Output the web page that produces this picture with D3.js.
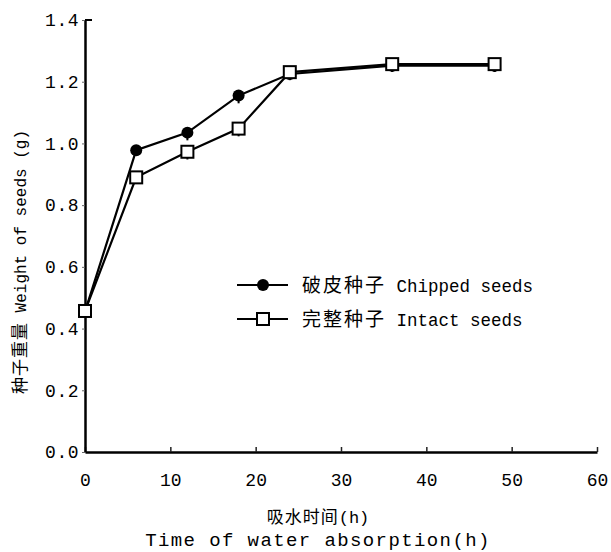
<!DOCTYPE html>
<html>
<head>
<meta charset="utf-8">
<script src="https://cdn.jsdelivr.net/npm/d3@7"></script>
<style>
  html, body { margin: 0; padding: 0; background: #fff; }
  svg { display: block; }
</style>
</head>
<body>
<div id="chart"></div>
<script>
// values
const hours = [0, 6, 12, 18, 24, 36, 48];
const chipped = [0.455, 0.978, 1.035, 1.155, 1.225, 1.252, 1.252];
const intact = [0.457, 0.890, 0.973, 1.048, 1.231, 1.257, 1.257];
const chippedErr = [0, 0.015, 0.025, 0.025, 0.02, 0.02, 0.02];
const intactErr = [0, 0.02, 0.025, 0.025, 0.025, 0.025, 0.025];

const xTicks = [0, 10, 20, 30, 40, 50, 60];
const yTicks = [0, 0.2, 0.4, 0.6, 0.8, 1.0, 1.2, 1.4];
const yTickLabels = ['0.0', '0.2', '0.4', '0.6', '0.8', '1.0', '1.2', '1.4'];

const seriesCn = ['破皮种子', '完整种子'];
const seriesEn = ['Chipped seeds', 'Intact seeds'];
const xTitleCn = '吸水时间(h)';
const xTitleEn = 'Time of water absorption(h)';
const yTitleCn = '种子重量';
const yTitleEn = 'Weight of seeds (g)';

const W = 611, H = 552;
const MONO = '"Liberation Mono", "DejaVu Sans Mono", monospace';
const CJK = '"Noto Sans CJK SC", "Noto Sans CJK JP", sans-serif';

const svg = d3.select('#chart').append('svg')
    .attr('width', W)
    .attr('height', H);

const x = d3.scaleLinear().domain([0, 60]).range([85, 597]);
const y = d3.scaleLinear().domain([0, 1.4]).range([452, 20]);

// axes
const xAxis = d3.axisBottom(x)
    .tickValues(xTicks)
    .tickSizeInner(-5)
    .tickSizeOuter(0)
    .tickFormat(d3.format('d'));

const gx = svg.append('g')
    .attr('transform', `translate(0,${y(0)})`)
    .call(xAxis);
gx.select('.domain').attr('stroke', '#000').attr('stroke-width', 2.5);
gx.selectAll('.tick line').attr('stroke', '#222').attr('stroke-width', 1.5);
gx.selectAll('.tick text')
    .attr('y', 21)
    .attr('font-family', MONO)
    .attr('font-size', 18)
    .attr('fill', '#000');

const yAxis = d3.axisLeft(y)
    .tickValues(yTicks)
    .tickSizeInner(3)
    .tickSizeOuter(0)
    .tickFormat((d, i) => yTickLabels[i]);

const gy = svg.append('g')
    .attr('transform', `translate(${x(0)},0)`)
    .call(yAxis);
gy.select('.domain').attr('stroke', '#000').attr('stroke-width', 2.5);
gy.selectAll('.tick line').attr('stroke', '#666').attr('stroke-width', 1);
gy.selectAll('.tick text')
    .attr('x', -6)
    .attr('font-family', MONO)
    .attr('font-size', 18)
    .attr('letter-spacing', 0.5)
    .attr('fill', '#000');

// little cap at the top of the y axis
svg.append('line')
    .attr('x1', x(0)).attr('x2', x(0) + 7)
    .attr('y1', y(1.4)).attr('y2', y(1.4))
    .attr('stroke', '#000').attr('stroke-width', 2);

// axis titles
svg.append('text')
    .attr('x', 318).attr('y', 523)
    .attr('text-anchor', 'middle')
    .attr('font-size', 17)
    .call(t => {
        t.append('tspan').attr('font-family', CJK).attr('letter-spacing', 1).text(xTitleCn.slice(0, 4));
        t.append('tspan').attr('font-family', MONO).text(xTitleCn.slice(4));
    });

svg.append('text')
    .attr('x', 318).attr('y', 546)
    .attr('text-anchor', 'middle')
    .attr('font-family', MONO)
    .attr('font-size', 19)
    .attr('letter-spacing', 1.4)
    .text(xTitleEn);

svg.append('text')
    .attr('transform', 'translate(26,262) rotate(-90)')
    .attr('text-anchor', 'middle')
    .call(t => {
        t.append('tspan').attr('font-family', CJK).attr('font-size', 17).attr('letter-spacing', 1).text(yTitleCn);
        t.append('tspan').attr('font-family', MONO).attr('font-size', 16).text(' ' + yTitleEn);
    });

// series
const series = [
    {values: chipped, err: chippedErr, marker: 'circle'},
    {values: intact, err: intactErr, marker: 'square'}
];

const line = d3.line()
    .x(d => x(d[0]))
    .y(d => y(d[1]));

const drawMarker = (sel, kind) => {
    if (kind === 'circle') {
        sel.append('circle')
            .attr('r', 6)
            .attr('fill', '#000');
    } else {
        sel.append('rect')
            .attr('x', -6).attr('y', -6)
            .attr('width', 12).attr('height', 12)
            .attr('fill', '#fff')
            .attr('stroke', '#000')
            .attr('stroke-width', 2);
    }
};

series.forEach(s => {
    const pts = hours.map((h, i) => [h, s.values[i], s.err[i]]);
    const g = svg.append('g');

    g.append('path')
        .datum(pts)
        .attr('d', line)
        .attr('fill', 'none')
        .attr('stroke', '#000')
        .attr('stroke-width', 2.2);

    g.selectAll('.err')
        .data(pts.filter(d => d[2] > 0))
        .enter()
        .append('line')
        .attr('class', 'err')
        .attr('x1', d => x(d[0])).attr('x2', d => x(d[0]))
        .attr('y1', d => y(d[1]))
        .attr('y2', d => y(d[1] - d[2]))
        .attr('stroke', '#000')
        .attr('stroke-width', 2);

    g.selectAll('.pt')
        .data(pts)
        .enter()
        .append('g')
        .attr('class', 'pt')
        .attr('transform', d => `translate(${x(d[0])},${y(d[1])})`)
        .each(function() { drawMarker(d3.select(this), s.marker); });
});

// legend
const legend = svg.append('g').attr('transform', 'translate(237,285)');
series.forEach((s, i) => {
    const row = legend.append('g').attr('transform', `translate(0,${i * 34})`);
    row.append('line')
        .attr('x1', 0).attr('x2', 51)
        .attr('stroke', '#000').attr('stroke-width', 2);
    drawMarker(row.append('g').attr('transform', 'translate(26,0)'), s.marker);
    const t = row.append('text')
        .attr('x', 65).attr('y', 7);
    t.append('tspan').attr('font-family', CJK).attr('font-size', 19).attr('letter-spacing', 2).text(seriesCn[i]);
    t.append('tspan').attr('font-family', MONO).attr('font-size', 17.5).text(' ' + seriesEn[i]);
});
</script>
</body>
</html>
